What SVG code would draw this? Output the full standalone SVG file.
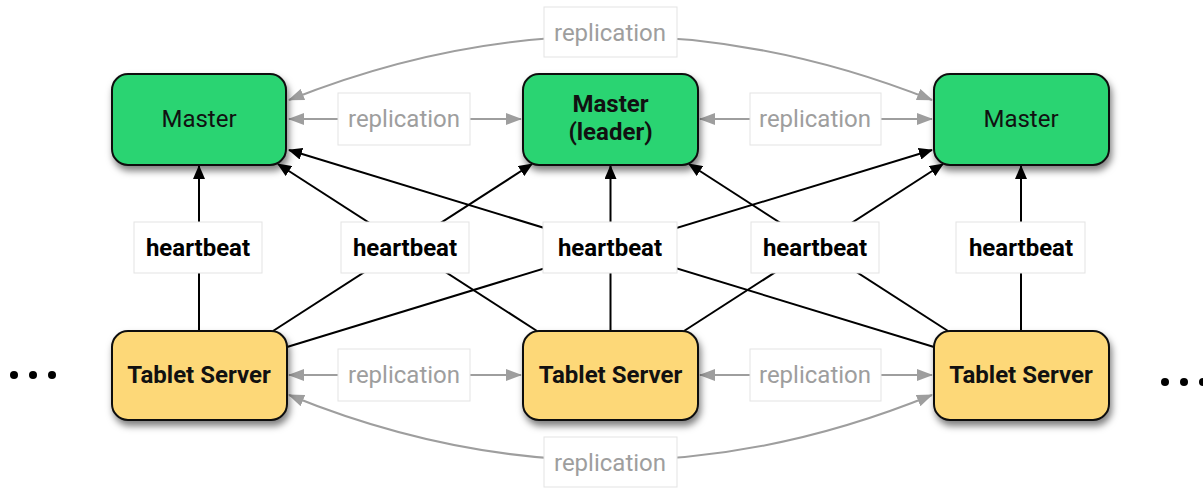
<svg xmlns="http://www.w3.org/2000/svg" width="1203" height="488" viewBox="0 0 1203 488">
  <defs>
    <filter id="shadow" x="-20%" y="-20%" width="140%" height="160%">
      <feDropShadow dx="2" dy="5" stdDeviation="3.5" flood-color="#000" flood-opacity="0.5"/>
    </filter>
    <marker id="arrowBlack" viewBox="0 0 14 12" refX="13" refY="6" markerWidth="14" markerHeight="12" markerUnits="userSpaceOnUse" orient="auto">
      <path d="M0,0 L14,6 L0,12 z" fill="#000"/>
    </marker>
    <marker id="arrowGray" viewBox="0 0 16 12" refX="15" refY="6" markerWidth="16" markerHeight="12" markerUnits="userSpaceOnUse" orient="auto-start-reverse">
      <path d="M0,0 L16,6 L0,12 z" fill="#9e9e9e"/>
    </marker>
  </defs>
  <style>
    .master { fill: #2ad472; stroke: #111; stroke-width: 2; }
    .tablet { fill: #fdd878; stroke: #111; stroke-width: 2; }
    .node-text { font-family: Roboto, "Liberation Sans", sans-serif; font-size: 24px; fill: #111; text-anchor: middle; }
    .bold { font-weight: bold; }
    .hb { stroke: #000; stroke-width: 2; fill: none; marker-end: url(#arrowBlack); }
    .rep { stroke: #9e9e9e; stroke-width: 2; fill: none; marker-start: url(#arrowGray); marker-end: url(#arrowGray); }
    .label-box { fill: #fff; stroke: #e3e3e3; stroke-width: 1; }
    .hb-text { font-family: Roboto, "Liberation Sans", sans-serif; font-size: 24px; font-weight: bold; fill: #000; text-anchor: middle; }
    .rep-text { font-family: Roboto, "Liberation Sans", sans-serif; font-size: 24px; fill: #9e9e9e; text-anchor: middle; }
  </style>

  <rect width="1203" height="488" fill="#fff"/>

  <!-- connectors -->
  <g id="connectors">
    <!-- heartbeats: every tablet server reports to every master -->
    <line class="hb" x1="199" y1="331" x2="199" y2="166"/>
    <line class="hb" x1="273" y1="331" x2="532" y2="164"/>
    <line class="hb" x1="287" y1="347" x2="932" y2="150"/>
    <line class="hb" x1="537" y1="331" x2="278" y2="164"/>
    <line class="hb" x1="610.5" y1="331" x2="610.5" y2="166"/>
    <line class="hb" x1="684" y1="331" x2="943" y2="164"/>
    <line class="hb" x1="934" y1="347" x2="289" y2="150"/>
    <line class="hb" x1="948" y1="331" x2="689" y2="164"/>
    <line class="hb" x1="1021" y1="331" x2="1021" y2="166"/>

    <!-- replication between masters -->
    <line class="rep" x1="289" y1="119" x2="521" y2="119"/>
    <line class="rep" x1="700" y1="119" x2="932" y2="119"/>
    <path class="rep" d="M289,100 Q610,-28 932,100"/>

    <!-- replication between tablet servers -->
    <line class="rep" x1="289" y1="375" x2="521" y2="375"/>
    <line class="rep" x1="700" y1="375" x2="932" y2="375"/>
    <path class="rep" d="M289,395 Q610,526 932,395"/>

    <!-- heartbeat labels -->
    <rect class="label-box" x="134" y="222" width="128" height="51"/>
    <text class="hb-text" x="198" y="256">heartbeat</text>
    <rect class="label-box" x="341" y="222" width="128" height="51"/>
    <text class="hb-text" x="405" y="256">heartbeat</text>
    <rect class="label-box" x="543" y="222" width="134" height="51"/>
    <text class="hb-text" x="610" y="256">heartbeat</text>
    <rect class="label-box" x="751" y="222" width="128" height="51"/>
    <text class="hb-text" x="815" y="256">heartbeat</text>
    <rect class="label-box" x="956" y="222" width="129" height="51"/>
    <text class="hb-text" x="1021" y="256">heartbeat</text>

    <!-- replication labels -->
    <rect class="label-box" x="338" y="93" width="132" height="52"/>
    <text class="rep-text" x="404" y="127">replication</text>
    <rect class="label-box" x="750" y="93" width="131" height="52"/>
    <text class="rep-text" x="815" y="127">replication</text>
    <rect class="label-box" x="544" y="7" width="133" height="50"/>
    <text class="rep-text" x="610" y="41">replication</text>

    <rect class="label-box" x="338" y="349" width="132" height="52"/>
    <text class="rep-text" x="404" y="383">replication</text>
    <rect class="label-box" x="750" y="349" width="131" height="52"/>
    <text class="rep-text" x="815" y="383">replication</text>
    <rect class="label-box" x="544" y="437" width="133" height="50"/>
    <text class="rep-text" x="610" y="471">replication</text>
  </g>

  <!-- masters -->
  <g id="master-left">
    <rect class="master" x="112" y="74" width="174" height="91" rx="16" filter="url(#shadow)"/>
    <text class="node-text" x="199" y="127">Master</text>
  </g>
  <g id="master-leader">
    <rect class="master" x="523" y="74" width="175" height="91" rx="16" filter="url(#shadow)"/>
    <text class="node-text bold" x="610.5" y="112">Master</text>
    <text class="node-text bold" x="610.5" y="140">(leader)</text>
  </g>
  <g id="master-right">
    <rect class="master" x="934" y="74" width="175" height="91" rx="16" filter="url(#shadow)"/>
    <text class="node-text" x="1021" y="127">Master</text>
  </g>

  <!-- tablet servers -->
  <g id="tablet-left">
    <rect class="tablet" x="112" y="331" width="175" height="89" rx="16" filter="url(#shadow)"/>
    <text class="node-text bold" x="199" y="383">Tablet Server</text>
  </g>
  <g id="tablet-middle">
    <rect class="tablet" x="523" y="331" width="175" height="89" rx="16" filter="url(#shadow)"/>
    <text class="node-text bold" x="610.5" y="383">Tablet Server</text>
  </g>
  <g id="tablet-right">
    <rect class="tablet" x="934" y="331" width="175" height="89" rx="16" filter="url(#shadow)"/>
    <text class="node-text bold" x="1021" y="383">Tablet Server</text>
  </g>

  <!-- ellipses: more servers on either side -->
  <g id="more-left" fill="#000">
    <circle cx="14" cy="375" r="4"/>
    <circle cx="33" cy="375" r="4"/>
    <circle cx="52" cy="375" r="4"/>
  </g>
  <g id="more-right" fill="#000">
    <circle cx="1165" cy="382" r="4"/>
    <circle cx="1184" cy="382" r="4"/>
    <circle cx="1203" cy="382" r="4"/>
  </g>
</svg>
